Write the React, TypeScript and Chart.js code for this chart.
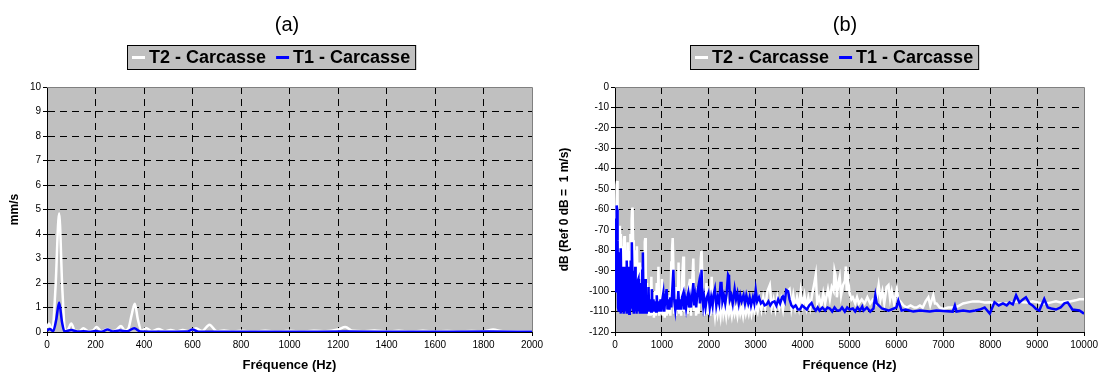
import React, { useEffect, useRef } from "react";
import { Chart, registerables } from "chart.js";

Chart.register(...registerables);

const FONT = "'Liberation Sans', Arial, Helvetica, sans-serif";

// ---------- Titles / series names ----------
const panelTitles = ["(a)", "(b)"];
const seriesNames = ["T2 - Carcasse", "T1 - Carcasse"];
const xAxisTitle = "Fréquence (Hz)";
const yAxisTitleA = "mm/s";
const yAxisTitleB = "dB (Ref 0 dB =  1 m/s)";

// ---------- Tick values ----------
const xTicksA = [0, 200, 400, 600, 800, 1000, 1200, 1400, 1600, 1800, 2000];
const yTicksA = [0, 1, 2, 3, 4, 5, 6, 7, 8, 9, 10];
const xTicksB = [0, 1000, 2000, 3000, 4000, 5000, 6000, 7000, 8000, 9000, 10000];
const yTicksB = [0, -10, -20, -30, -40, -50, -60, -70, -80, -90, -100, -110, -120];

// ---------- Panel (a): velocity spectrum, [Hz, mm/s] ----------
const t2VelocityA: [number, number][] = [
  [0, 0.15], [8, 0.35], [22, 0.05], [35, 1.8], [50, 4.85], [63, 1.8], [75, 0.05], [88, 0.12],
  [100, 0.35], [115, 0.05], [132, 0.03], [150, 0.15], [170, 0.03], [188, 0.05], [205, 0.2],
  [225, 0.03], [250, 0.12], [270, 0.03], [288, 0.1], [305, 0.25], [322, 0.05], [336, 0.15],
  [349, 0.7], [362, 1.15], [375, 0.5], [390, 0.05], [410, 0.15], [432, 0.03], [460, 0.12],
  [485, 0.03], [510, 0.08], [535, 0.03], [560, 0.08], [585, 0.03], [615, 0.15], [640, 0.04],
  [670, 0.3], [700, 0.03], [730, 0.06], [760, 0.02], [800, 0.05], [850, 0.02], [900, 0.05],
  [950, 0.02], [1000, 0.05], [1050, 0.02], [1100, 0.05], [1150, 0.03], [1200, 0.1], [1230, 0.2],
  [1260, 0.05], [1300, 0.03], [1350, 0.06], [1400, 0.02], [1450, 0.05], [1500, 0.02], [1550, 0.05],
  [1600, 0.02], [1650, 0.04], [1700, 0.02], [1750, 0.04], [1800, 0.03], [1840, 0.1], [1880, 0.03],
  [1950, 0.03], [2000, 0.02],
];
const t1VelocityA: [number, number][] = [
  [0, 0.05], [12, 0.12], [25, 0.03], [38, 0.5], [50, 1.2], [62, 0.4], [72, 0.02], [100, 0.08],
  [125, 0.02], [150, 0.03], [175, 0.01], [200, 0.04], [225, 0.01], [250, 0.1], [272, 0.02],
  [300, 0.06], [330, 0.03], [360, 0.15], [385, 0.02], [450, 0.01], [580, 0.02], [600, 0.1],
  [625, 0.01], [800, 0.01], [1000, 0.01], [1230, 0.02], [1500, 0.01], [1820, 0.02], [2000, 0.01],
];

// ---------- Panel (b): spectrum in dB, [Hz, dB] ----------
const t2DecibelB: [number, number][] = [
  [0, -90], [10, -70], [20, -85], [35, -48], [45, -46], [55, -62], [65, -88], [75, -72], [85, -95],
  [95, -70], [105, -68], [115, -90], [125, -72], [135, -95], [145, -80], [155, -98], [165, -78],
  [175, -92], [190, -75], [200, -73], [210, -95], [220, -80], [235, -100], [245, -82], [255, -96],
  [270, -76], [280, -98], [290, -80], [300, -100], [310, -85], [320, -96], [330, -72], [345, -90],
  [355, -65], [365, -60], [375, -59], [385, -75], [395, -95], [405, -85], [415, -98], [425, -80],
  [440, -96], [455, -82], [467, -78], [480, -100], [490, -90], [500, -96], [515, -86], [530, -100],
  [545, -88], [560, -102], [575, -90], [590, -100], [605, -84], [620, -98], [635, -76], [645, -74],
  [655, -90], [665, -100], [680, -96], [690, -108], [700, -100],
  [720, -112], [740, -100], [760, -112], [775, -93], [790, -111], [810, -104], [830, -113],
  [850, -100], [870, -112], [890, -96], [910, -110], [926, -88], [940, -112], [960, -104],
  [980, -111], [1000, -94], [1020, -112], [1040, -106], [1060, -113], [1080, -100], [1100, -112],
  [1120, -104], [1140, -111], [1160, -102], [1180, -112], [1200, -86], [1215, -80], [1230, -74],
  [1245, -88], [1260, -111], [1280, -98], [1300, -112], [1320, -100], [1340, -110], [1355, -86],
  [1370, -111], [1390, -100], [1410, -112], [1430, -95], [1456, -83], [1470, -110], [1490, -100],
  [1510, -112], [1530, -102], [1550, -111], [1570, -98], [1600, -94], [1620, -112], [1645, -96],
  [1670, -84], [1690, -110], [1710, -100], [1730, -112], [1760, -98], [1780, -111], [1810, -96],
  [1830, -84], [1845, -80], [1860, -92], [1880, -111], [1900, -102], [1920, -112], [1950, -96],
  [1970, -111], [2000, -104], [2030, -112], [2060, -93], [2080, -111], [2100, -106], [2130, -112],
  [2160, -105], [2190, -111], [2220, -107], [2250, -112], [2280, -104], [2310, -111], [2340, -107],
  [2370, -112], [2400, -106], [2430, -111], [2460, -108], [2490, -112], [2520, -107], [2550, -111],
  [2580, -108], [2610, -112], [2640, -107], [2670, -111], [2700, -108], [2730, -112], [2760, -107],
  [2790, -111], [2820, -108], [2850, -111], [2880, -107], [2910, -111], [2940, -107], [2970, -110],
  [3000, -107],
  [3040, -110], [3080, -104], [3120, -109], [3160, -103], [3200, -108], [3250, -100], [3300, -97],
  [3340, -108], [3380, -104], [3420, -109], [3460, -103], [3500, -108], [3540, -104], [3580, -109],
  [3620, -102], [3680, -100], [3720, -99], [3760, -108], [3800, -102], [3840, -108], [3880, -103],
  [3920, -108], [3960, -100], [4000, -107], [4040, -102], [4080, -108], [4120, -103], [4160, -108],
  [4200, -102], [4250, -96], [4280, -92], [4310, -106], [4350, -103], [4400, -107], [4440, -101],
  [4480, -106], [4540, -99], [4580, -104], [4620, -98], [4660, -100], [4680, -90], [4700, -92],
  [4730, -103], [4760, -96], [4790, -93], [4820, -102], [4860, -97], [4900, -95], [4920, -88],
  [4940, -100], [4970, -94], [5000, -101], [5040, -104], [5070, -103], [5120, -106], [5160, -103],
  [5200, -106], [5260, -104], [5320, -106], [5380, -103], [5440, -106], [5500, -104],
  [5560, -106], [5620, -97], [5660, -104], [5700, -100], [5740, -106], [5790, -98], [5830, -97],
  [5865, -104], [5900, -100], [5950, -106], [6007, -99], [6040, -104], [6080, -105], [6150, -107],
  [6220, -108], [6300, -107], [6380, -108], [6430, -108], [6500, -107], [6560, -108], [6620, -105],
  [6680, -103], [6720, -107], [6785, -102], [6820, -106], [6855, -106], [6920, -108], [7000, -108.7],
  [7100, -108], [7210, -108], [7300, -107.5], [7420, -106], [7530, -105.5], [7630, -105],
  [7750, -105], [7880, -105.5], [7990, -105.4], [8100, -106], [8220, -106], [8340, -106],
  [8460, -105.5], [8580, -105], [8690, -105.4], [8800, -105.5], [8900, -105], [9010, -105.5],
  [9100, -106], [9190, -106], [9300, -105.5], [9400, -105], [9500, -105.5], [9610, -105],
  [9700, -105], [9820, -104.5], [9900, -104], [10000, -104],
];
const t1DecibelB: [number, number][] = [
  [0, -100], [8, -80], [15, -95], [25, -65], [35, -58], [45, -60], [55, -75], [65, -108], [75, -85],
  [85, -110], [92, -81], [100, -106], [110, -90], [118, -111], [127, -79], [135, -100], [145, -110],
  [155, -88], [165, -110], [175, -92], [185, -111], [195, -95], [205, -109], [215, -88], [225, -110],
  [235, -90], [245, -111], [255, -85], [265, -108], [275, -95], [285, -110], [295, -88], [305, -111],
  [315, -92], [325, -108], [335, -85], [345, -102], [355, -78], [362, -76], [370, -90], [380, -110],
  [390, -96], [400, -111], [410, -92], [420, -109], [430, -88], [440, -110], [450, -96], [460, -111],
  [470, -98], [480, -109], [490, -95], [500, -94], [510, -110], [520, -98], [530, -111], [540, -96],
  [550, -109], [560, -100], [570, -111], [580, -90], [594, -81], [605, -100], [615, -111], [625, -96],
  [635, -110], [643, -94], [655, -111], [665, -103], [675, -111], [690, -106], [700, -110],
  [714, -98], [730, -110], [750, -104], [770, -110], [785, -99], [800, -110], [820, -104], [840, -110],
  [860, -105], [875, -110], [890, -102], [910, -110], [930, -105], [950, -110], [970, -104],
  [990, -110], [1010, -104], [1030, -101], [1050, -110], [1070, -104], [1100, -99], [1120, -109],
  [1140, -104], [1160, -109], [1180, -103], [1200, -108], [1220, -100], [1245, -89.5], [1265, -105],
  [1285, -109], [1305, -104], [1325, -109], [1350, -100], [1370, -109], [1390, -104], [1410, -109],
  [1430, -103], [1456, -101], [1475, -109], [1495, -104], [1515, -108], [1540, -103], [1560, -101],
  [1580, -108], [1600, -104], [1620, -108], [1645, -102], [1670, -96], [1690, -107], [1710, -103],
  [1730, -108], [1760, -100], [1790, -96], [1810, -106], [1830, -100], [1845, -89.5], [1860, -102],
  [1880, -107], [1900, -103], [1930, -108], [1960, -103], [1990, -101], [2020, -108], [2050, -103],
  [2080, -107], [2100, -102], [2130, -99], [2160, -107], [2190, -103], [2220, -106], [2250, -96],
  [2270, -96], [2290, -105], [2320, -102], [2350, -106], [2380, -101], [2410, -92], [2430, -93],
  [2450, -104], [2480, -102], [2510, -106], [2550, -99], [2580, -104], [2610, -101], [2640, -106],
  [2670, -102], [2700, -105], [2740, -102], [2770, -106], [2800, -102], [2840, -106], [2870, -103],
  [2900, -107], [2940, -103], [2970, -106], [3000, -99.5],
  [3030, -105], [3070, -103], [3110, -106], [3150, -105], [3190, -107], [3230, -106.6], [3270, -105],
  [3310, -107], [3350, -105.5], [3400, -105], [3440, -107], [3480, -104], [3520, -106], [3560, -103],
  [3580, -102.6], [3620, -105], [3650, -99.4], [3690, -100], [3720, -104], [3760, -107], [3800, -108],
  [3850, -107], [3900, -109], [3940, -109], [3990, -107], [4040, -108], [4090, -109], [4140, -107],
  [4190, -105.8], [4230, -108], [4280, -109.5], [4320, -108], [4360, -109.5], [4420, -108],
  [4480, -109.5], [4530, -108], [4580, -108.5], [4630, -110], [4680, -108], [4730, -109.5],
  [4790, -109.5], [4840, -108], [4900, -110], [4950, -108], [5000, -109], [5070, -108.5],
  [5120, -110], [5170, -108], [5220, -109.5], [5270, -107.5], [5300, -109.5],
  [5370, -108], [5440, -110], [5510, -108.5], [5550, -102], [5580, -106], [5690, -108.5],
  [5830, -109.5], [6000, -108], [6040, -104.6], [6110, -109.5], [6200, -109], [6360, -110],
  [6500, -109.5], [6710, -110], [6850, -109.5], [7000, -109.7], [7200, -110], [7245, -107],
  [7280, -110], [7420, -109.5], [7560, -110], [7680, -109.5], [7775, -109], [7880, -108],
  [7990, -111], [8090, -105.4], [8180, -107], [8270, -106], [8350, -107], [8410, -105.5],
  [8480, -106.5], [8550, -102], [8620, -105.5], [8700, -104], [8760, -103], [8835, -106],
  [8900, -107], [8975, -108.7], [9045, -109.5], [9150, -103.8], [9225, -108], [9300, -108.5],
  [9400, -109], [9500, -108], [9580, -106], [9650, -105.5], [9750, -109], [9900, -109.5],
  [10000, -111],
];

const PLOT_BG = "#C0C0C0";

type PanelCfg = {
  title: string;
  titleX: number;
  legendX: number;
  yAxisWidth: number;
  padRight: number;
  xTicks: number[];
  yTicks: number[];
  yTitle: string;
  t2: [number, number][];
  t1: [number, number][];
  smooth: boolean;
  lineWidth: number;
};

const panelPlugin = {
  id: "panelDecor",
  beforeDraw(chart: any) {
    const { ctx, chartArea: a } = chart;
    ctx.save();
    ctx.fillStyle = PLOT_BG;
    ctx.fillRect(a.left, a.top, a.right - a.left, a.bottom - a.top);
    ctx.restore();
  },
  beforeDatasetsDraw(chart: any) {
    const { ctx, chartArea: a } = chart;
    ctx.save();
    ctx.strokeStyle = "#808080";
    ctx.lineWidth = 1;
    ctx.beginPath();
    ctx.moveTo(a.left, Math.floor(a.top) + 0.5);
    ctx.lineTo(Math.floor(a.right) + 0.5, Math.floor(a.top) + 0.5);
    ctx.lineTo(Math.floor(a.right) + 0.5, a.bottom);
    ctx.stroke();
    ctx.restore();
  },
  afterDraw(chart: any, _args: any, opts: any) {
    const { ctx } = chart;
    ctx.save();
    // title
    ctx.fillStyle = "#000";
    ctx.font = `20px ${FONT}`;
    ctx.textAlign = "center";
    ctx.textBaseline = "middle";
    ctx.fillText(opts.title, opts.titleX, 25);
    // legend
    ctx.font = `bold 18px ${FONT}`;
    const items = chart.data.datasets.map((d: any) => ({ label: d.label, color: d.borderColor }));
    const sampleW = 13, gapS = 4, gapI = 10, padL = 5, padR = 6;
    const widths = items.map((it: any) => ctx.measureText(it.label).width);
    let total = padL + padR + gapI * (items.length - 1);
    widths.forEach((w: number) => (total += sampleW + gapS + w));
    const left = Math.round(opts.legendX - total / 2);
    const top = 45, h = 25;
    ctx.fillStyle = PLOT_BG;
    ctx.fillRect(left, top, total, h);
    ctx.strokeStyle = "#000";
    ctx.lineWidth = 1;
    ctx.strokeRect(left + 0.5, top + 0.5, total - 1, h - 1);
    let x = left + padL;
    const cy = top + h / 2;
    items.forEach((it: any, i: number) => {
      ctx.strokeStyle = it.color;
      ctx.lineWidth = 3;
      ctx.beginPath();
      ctx.moveTo(x, cy);
      ctx.lineTo(x + sampleW, cy);
      ctx.stroke();
      x += sampleW + gapS;
      ctx.fillStyle = "#000";
      ctx.textAlign = "left";
      ctx.textBaseline = "middle";
      ctx.fillText(it.label, x, cy + 1);
      x += widths[i] + gapI;
    });
    ctx.restore();
  },
};

function Panel({ cfg, width, left }: { cfg: PanelCfg; width: number; left: number }) {
  const ref = useRef<HTMLCanvasElement | null>(null);
  useEffect(() => {
    if (!ref.current) return;
    const xMax = cfg.xTicks[cfg.xTicks.length - 1];
    const yMax = Math.max(...cfg.yTicks);
    const yMin = Math.min(...cfg.yTicks);
    const chart = new Chart(ref.current, {
      type: "line",
      data: {
        datasets: [
          {
            label: seriesNames[0],
            data: cfg.t2 as any,
            borderColor: "#FFFFFF",
            backgroundColor: "#FFFFFF",
            borderWidth: cfg.lineWidth,
            pointRadius: 0,
            fill: false,
            order: 2,
            tension: cfg.smooth ? 0.4 : 0,
            cubicInterpolationMode: cfg.smooth ? "monotone" : "default",
          },
          {
            label: seriesNames[1],
            data: cfg.t1 as any,
            borderColor: "#0000FF",
            backgroundColor: "#0000FF",
            borderWidth: cfg.lineWidth,
            pointRadius: 0,
            fill: false,
            order: 1,
            tension: cfg.smooth ? 0.4 : 0,
            cubicInterpolationMode: cfg.smooth ? "monotone" : "default",
          },
        ],
      },
      options: {
        animation: false,
        responsive: false,
        devicePixelRatio: 1,
        layout: { padding: { top: 87, right: cfg.padRight, left: 0, bottom: 0 } },
        plugins: {
          legend: { display: false },
          tooltip: { enabled: false },
          title: { display: false },
          panelDecor: { title: cfg.title, titleX: cfg.titleX, legendX: cfg.legendX },
        } as any,
        scales: {
          x: {
            type: "linear",
            min: 0,
            max: xMax,
            afterBuildTicks: (s: any) => {
              s.ticks = cfg.xTicks.map((v) => ({ value: v }));
            },
            afterFit: (s: any) => {
              s.height = 41;
            },
            ticks: {
              color: "#000",
              font: { family: FONT, size: 10 },
              padding: 3,
              maxRotation: 0,
              autoSkip: false,
              callback: (v: any) => String(v),
            },
            grid: {
              color: (c: any) => (c.tick && c.tick.value === xMax ? "rgba(0,0,0,0)" : "#000"),
              lineWidth: 1,
              drawTicks: true,
              tickLength: 4,
              tickColor: "#000",
            },
            border: { display: true, color: "#000", width: 1, dash: [7, 5] },
            title: {
              display: true,
              text: xAxisTitle,
              color: "#000",
              font: { family: FONT, size: 13, weight: "bold" },
              padding: { top: 0, bottom: 0 },
            },
          },
          y: {
            type: "linear",
            min: yMin,
            max: yMax,
            afterBuildTicks: (s: any) => {
              s.ticks = cfg.yTicks.map((v) => ({ value: v }));
            },
            afterFit: (s: any) => {
              s.width = cfg.yAxisWidth;
            },
            ticks: {
              color: "#000",
              font: { family: FONT, size: 10 },
              padding: 2,
              autoSkip: false,
              callback: (v: any) => String(v),
            },
            grid: {
              color: (c: any) => (c.tick && c.tick.value === yMax ? "rgba(0,0,0,0)" : "#000"),
              lineWidth: 1,
              drawTicks: true,
              tickLength: 4,
              tickColor: "#000",
            },
            border: { display: true, color: "#000", width: 1, dash: [7, 5] },
            title: {
              display: true,
              text: cfg.yTitle,
              color: "#000",
              font: { family: FONT, size: 12, weight: "bold" },
              padding: { top: 7, bottom: 0 },
            },
          },
        },
      } as any,
      plugins: [panelPlugin as any],
    });
    return () => chart.destroy();
  }, [cfg]);
  return (
    <canvas
      ref={ref}
      width={width}
      height={373}
      style={{ position: "absolute", left, top: 0, width, height: 373 }}
    />
  );
}

const cfgA: PanelCfg = {
  title: panelTitles[0],
  titleX: 287,
  legendX: 271.5,
  yAxisWidth: 47,
  padRight: 18,
  xTicks: xTicksA,
  yTicks: yTicksA,
  yTitle: yAxisTitleA,
  t2: t2VelocityA,
  t1: t1VelocityA,
  smooth: true,
  lineWidth: 2.5,
};

const cfgB: PanelCfg = {
  title: panelTitles[1],
  titleX: 295,
  legendX: 285,
  yAxisWidth: 65,
  padRight: 14,
  xTicks: xTicksB,
  yTicks: yTicksB,
  yTitle: yAxisTitleB,
  t2: t2DecibelB,
  t1: t1DecibelB,
  smooth: false,
  lineWidth: 2.5,
};

export default function App() {
  return (
    <div style={{ position: "absolute", left: 0, top: 0, width: 1101, height: 373, background: "#fff" }}>
      <Panel cfg={cfgA} width={550} left={0} />
      <Panel cfg={cfgB} width={551} left={550} />
    </div>
  );
}
